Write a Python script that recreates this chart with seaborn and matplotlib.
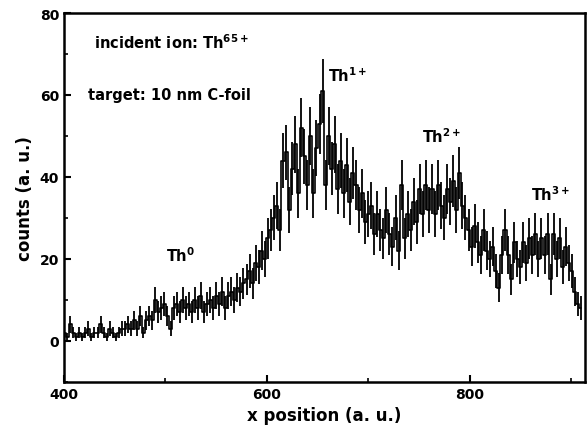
import numpy as np
import pandas as pd
import matplotlib
matplotlib.use("Agg")
import matplotlib.pyplot as plt
from matplotlib.ticker import MultipleLocator
import seaborn as sns

# x position (a. u.), channels every 3 units from 400 to 910
x_pos = list(range(400, 911, 3))
counts = [
    2, 1, 4, 2, 1, 2, 1, 2, 3, 1,
    2, 2, 4, 2, 1, 3, 2, 1, 2, 3,
    3, 4, 3, 5, 3, 6, 2, 5, 6, 5,
    10, 7, 8, 9, 6, 3, 8, 9, 7, 10,
    8, 9, 7, 10, 8, 11, 7, 9, 10, 8,
    11, 9, 12, 8, 11, 12, 10, 13, 12, 14,
    15, 17, 14, 19, 18, 22, 20, 25, 27, 30,
    33, 27, 44, 46, 32, 42, 48, 36, 52, 45,
    38, 50, 36, 47, 53, 61, 38, 50, 42, 48,
    37, 44, 36, 43, 34, 41, 38, 32, 36, 29,
    31, 33, 26, 31, 27, 25, 32, 26, 23, 30,
    22, 38, 25, 31, 27, 34, 29, 37, 31, 38,
    32, 37, 31, 38, 33, 30, 37, 34, 39, 32,
    41, 33, 30, 27, 23, 28, 24, 21, 27, 22,
    20, 23, 17, 13, 21, 27, 21, 15, 24, 20,
    18, 24, 19, 25, 21, 26, 20, 25, 21, 26,
    15, 26, 20, 25, 18, 23, 19, 17, 12, 9,
    8,
]
x_ticks = [400, 600, 800]
y_ticks = [0, 20, 40, 60, 80]

df = pd.DataFrame({"x": x_pos, "counts": counts})
df["err"] = np.sqrt(df["counts"])  # Poisson statistical error

sns.set_style("ticks")
plt.rcParams["font.family"] = ["DejaVu Sans"]
plt.rcParams["font.weight"] = "bold"
plt.rcParams["text.color"] = "black"
plt.rcParams["axes.labelcolor"] = "black"
plt.rcParams["xtick.color"] = "black"
plt.rcParams["ytick.color"] = "black"

fig = plt.figure(figsize=(5.88, 4.39), dpi=100)
ax = fig.add_axes([0.109, 0.128, 0.886, 0.840])

ax.errorbar(df["x"], df["counts"], yerr=df["err"], fmt="none",
            ecolor="black", elinewidth=1.3, capsize=0)
sns.lineplot(data=df, x="x", y="counts", ax=ax, color="black",
             linewidth=1.2, drawstyle="steps-mid")

ax.set_xlim(400, 914)
ax.set_ylim(-10, 80)
ax.set_xticks(x_ticks)
ax.set_yticks(y_ticks)
ax.xaxis.set_minor_locator(MultipleLocator(100))
ax.yaxis.set_minor_locator(MultipleLocator(10))
ax.tick_params(which="major", direction="in", length=5, width=1.5, labelsize=10,
               colors="black")
ax.tick_params(which="minor", direction="in", length=3, width=1.2, colors="black")
for s in ax.spines.values():
    s.set_linewidth(1.8)
    s.set_color("black")
    s.set_visible(True)

ax.set_xlabel("x position (a. u.)", fontsize=12, fontweight="bold", color="black")
ax.set_ylabel("counts (a. u.)", fontsize=12, fontweight="bold", color="black")

tk = dict(fontsize=10.5, fontweight="bold", va="center", ha="left", color="black")
ax.text(430, 73, r"incident ion: Th$^{\mathbf{65+}}$", **tk)
ax.text(424, 60, "target: 10 nm C-foil", **tk)
ax.text(501, 21, r"Th$^{\mathbf{0}}$", **tk)
ax.text(660, 65, r"Th$^{\mathbf{1+}}$", **tk)
ax.text(753, 50, r"Th$^{\mathbf{2+}}$", **tk)
ax.text(861, 36, r"Th$^{\mathbf{3+}}$", **tk)

fig.savefig("out.png", dpi=100)
